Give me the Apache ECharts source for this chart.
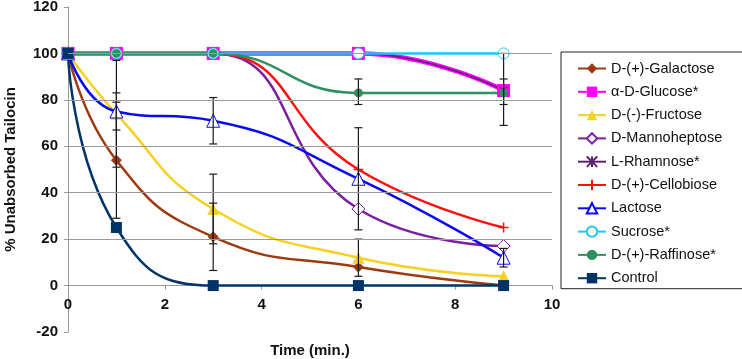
<!DOCTYPE html>
<html>
<head>
<meta charset="utf-8">
<script src="https://cdn.jsdelivr.net/npm/echarts@6/dist/echarts.min.js"></script>
<style>
  html, body { margin: 0; padding: 0; background: #fff; }
  #chart { width: 742px; height: 359px; }
</style>
</head>
<body>
<div id="chart"></div>
<script>
// time points (min.)
var times = [0, 1, 3, 6, 9]

// % unabsorbed tailocin per sugar
var galactose = [100, 54, 21, 8, 0]
var glucose = [100, 100, 100, 100, 84]
var fructose = [100, 74, 33, 12, 4]
var mannoheptose = [100, 100, 100, 33, 17]
var rhamnose = [100, 100, 100, 100, 84]
var cellobiose = [100, 100, 100, 50, 25]
var lactose = [100, 75, 71, 46, 12]
var sucrose = [100, 100, 100, 100, 100]
var raffinose = [100, 100, 100, 83, 83]
var control = [100, 25, 0, 0, 0]

// error bars: [time, low, high]
var errorBars = [
  [1, 51, 97], [1, 67, 83], [1, 29, 79],
  [3, 61, 81], [3, 18, 48], [3, 6.5, 35.5],
  [6, 78, 89], [6, 24, 68], [6, 4, 20],
  [9, 69, 100], [9, 78, 89], [9, 8, 16]
]

var gridValues = [20, 40, 60, 80, 100]
var yMin = -20
var yMax = 120

var chart = echarts.init(document.getElementById('chart'))

var gridTop = 7
var gridBottom = 27
var plotH = 359 - gridTop - gridBottom
// lift the x axis up to the zero line
var xOffset = -plotH * (0 - yMin) / (yMax - yMin)

function pts(arr) {
  return times.map(function (t, i) { return [t, arr[i]] })
}

function lineSeries(name, data, color, symbol, size, opts) {
  opts = opts || {}
  return {
    name: name,
    type: 'line',
    smooth: 0.5,
    data: pts(data),
    symbol: symbol,
    symbolSize: size,
    showAllSymbol: true,
    z: opts.z || 2,
    lineStyle: { color: color, width: opts.width || 2.5 },
    itemStyle: opts.hollow
      ? { color: '#fff', borderColor: color, borderWidth: 1 }
      : { color: color, borderColor: opts.border || color, borderWidth: opts.bw || 0 }
  }
}

var plusPath = 'path://M5,0L5,10M0,5L10,5'
var starPath = 'path://M0,0L10,10M10,0L0,10M5,0L5,10'

var series = [
  lineSeries('D-(+)-Galactose', galactose, '#9C3B12', 'diamond', 11),
  lineSeries('α-D-Glucose*', glucose, '#FF00FF', 'rect', 13, { width: 4.5 }),
  lineSeries('D-(-)-Fructose', fructose, '#F8D020', 'triangle', 12),
  lineSeries('D-Mannoheptose', mannoheptose, '#7B1FA0', 'diamond', 13, { hollow: true }),
  lineSeries('L-Rhamnose*', rhamnose, '#5C2270', starPath, 8, { width: 1.5, border: '#5C2270', bw: 1.2 }),
  lineSeries('D-(+)-Cellobiose', cellobiose, '#FF1010', plusPath, 10, { border: '#FF1010', bw: 1.5 }),
  lineSeries('Lactose', lactose, '#0A0AF0', 'triangle', 13, { hollow: true }),
  lineSeries('Sucrose*', sucrose, '#22C4F0', 'circle', 11, { hollow: true }),
  lineSeries('D-(+)-Raffinose*', raffinose, '#2F9060', 'circle', 9),
  lineSeries('Control', control, '#003366', 'rect', 11)
]

series.push({
  name: 'grid',
  type: 'line',
  data: [],
  silent: true,
  z: 0,
  markLine: {
    silent: true,
    symbol: 'none',
    label: { show: false },
    lineStyle: { color: '#9a9a9a', width: 1, type: 'solid' },
    data: gridValues.map(function (v) { return { yAxis: v } })
  }
})

series.push({
  name: 'errors',
  type: 'custom',
  z: 3,
  silent: true,
  data: errorBars,
  renderItem: function (params, api) {
    var x = api.value(0)
    var lo = api.coord([x, api.value(1)])
    var hi = api.coord([x, api.value(2)])
    var w = 4
    var st = { stroke: '#1a1a1a', lineWidth: 1.2 }
    return {
      type: 'group',
      children: [
        { type: 'line', shape: { x1: hi[0], y1: hi[1], x2: lo[0], y2: lo[1] }, style: st },
        { type: 'line', shape: { x1: hi[0] - w, y1: hi[1], x2: hi[0] + w, y2: hi[1] }, style: st },
        { type: 'line', shape: { x1: lo[0] - w, y1: lo[1], x2: lo[0] + w, y2: lo[1] }, style: st }
      ]
    }
  }
})

chart.setOption({
  animation: false,
  textStyle: { fontFamily: 'Liberation Sans, Arial, sans-serif' },
  grid: { left: 68, right: 190, top: gridTop, bottom: gridBottom, outerBoundsMode: 'none' },
  legend: {
    orient: 'vertical',
    left: 561,
    top: 52,
    data: series.slice(0, 10).map(function (s) { return s.name }),
    itemWidth: 28,
    itemHeight: 13,
    itemGap: 8.3,
    padding: [9, 60, 3, 16],
    borderColor: '#222',
    borderWidth: 1,
    textStyle: { fontSize: 14.5, lineHeight: 14, color: '#111', fontFamily: 'Liberation Sans, Arial, sans-serif' }
  },
  xAxis: {
    type: 'value',
    min: 0,
    max: 10,
    interval: 2,
    offset: xOffset,
    name: 'Time (min.)',
    nameLocation: 'middle',
    nameGap: 58,
    nameTextStyle: { fontSize: 15, fontWeight: 'bold', color: '#111' },
    axisLine: { onZero: false, lineStyle: { color: '#999' } },
    axisTick: { show: true, length: 4, lineStyle: { color: '#999' } },
    axisLabel: { fontSize: 15, fontWeight: 'bold', color: '#111', margin: 12 },
    splitLine: { show: false }
  },
  yAxis: {
    type: 'value',
    min: yMin,
    max: yMax,
    interval: 20,
    name: '% Unabsorbed Tailocin',
    nameLocation: 'middle',
    nameGap: 50,
    nameTextStyle: { fontSize: 15, fontWeight: 'bold', color: '#111' },
    axisLine: { show: true, onZero: false, lineStyle: { color: '#999' } },
    axisTick: { show: true, length: 4, lineStyle: { color: '#999' } },
    axisLabel: { fontSize: 15, fontWeight: 'bold', color: '#111', margin: 10 },
    splitLine: { show: false }
  },
  series: series
})
</script>
</body>
</html>
